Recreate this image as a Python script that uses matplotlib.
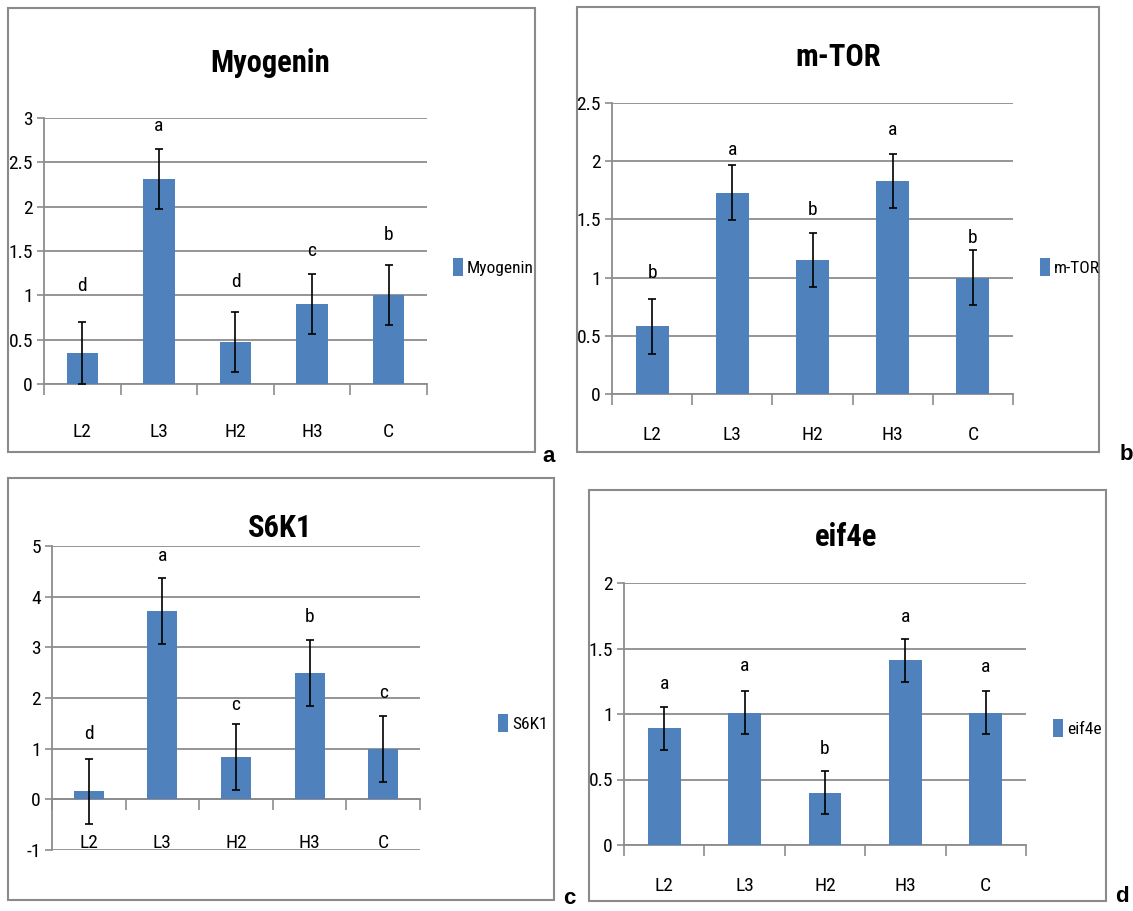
import matplotlib
matplotlib.use("Agg")
import matplotlib.pyplot as plt
from matplotlib.patches import Rectangle

W, H = 1133, 911
categories = ["L2", "L3", "H2", "H3", "C"]

myo_values = [0.35, 2.31, 0.47, 0.90, 1.00]
myo_errors = [0.35, 0.34, 0.34, 0.34, 0.34]
myo_letters = ["d", "a", "d", "c", "b"]
myo_letter_y = [1.11, 2.91, 1.15, 1.50, 1.68]
myo_ticks = [0, 0.5, 1, 1.5, 2, 2.5, 3]
myo_ticklabels = ["0", "0.5", "1", "1.5", "2", "2.5", "3"]

mtor_values = [0.58, 1.73, 1.15, 1.83, 1.00]
mtor_errors = [0.235, 0.235, 0.235, 0.235, 0.235]
mtor_letters = ["b", "a", "b", "a", "b"]
mtor_letter_y = [1.04, 2.10, 1.58, 2.27, 1.34]
mtor_ticks = [0, 0.5, 1, 1.5, 2, 2.5]
mtor_ticklabels = ["0", "0.5", "1", "1.5", "2", "2.5"]

s6k1_values = [0.16, 3.72, 0.83, 2.49, 0.99]
s6k1_errors = [0.64, 0.65, 0.65, 0.65, 0.65]
s6k1_letters = ["d", "a", "c", "b", "c"]
s6k1_letter_y = [1.28, 4.80, 1.87, 3.60, 2.10]
s6k1_ticks = [-1, 0, 1, 2, 3, 4, 5]
s6k1_ticklabels = ["-1", "0", "1", "2", "3", "4", "5"]

eif_values = [0.89, 1.01, 0.40, 1.41, 1.01]
eif_errors = [0.165, 0.165, 0.165, 0.165, 0.165]
eif_letters = ["a", "a", "b", "a", "a"]
eif_letter_y = [1.23, 1.37, 0.73, 1.74, 1.36]
eif_ticks = [0, 0.5, 1, 1.5, 2]
eif_ticklabels = ["0", "0.5", "1", "1.5", "2"]

NARROW = ["Roboto Condensed", "Roboto", "DejaVu Sans"]
BAR = "#4F81BD"
GRID = "#8c8c8c"

fig = plt.figure(figsize=(W / 100, H / 100), dpi=100)


def fx(px):
    return px / W


def fy(py):
    return 1 - py / H


def panel(axpx, boxpx, values, errors, letters, letter_y, ticks, ticklabels,
          title, title_xy, legend_xy, plabel, plabel_xy, label_pad, zero_axis=False):
    l, t, r, b = boxpx
    fig.add_artist(Rectangle((fx(l), fy(b)), fx(r - l), (b - t) / H,
                             transform=fig.transFigure, fill=False,
                             edgecolor="#8a8a8a", lw=1.5))
    al, at, ar, ab = axpx
    ax = fig.add_axes([fx(al), fy(ab), fx(ar - al), (ab - at) / H])
    for s in ["top", "right"]:
        ax.spines[s].set_visible(False)
    if zero_axis:
        ax.spines["bottom"].set_position(("data", 0))
    x = list(range(len(categories)))
    bars = ax.bar(x, values, width=0.41, color=BAR, label=title, zorder=3)
    ax.errorbar(x, values, yerr=errors, fmt="none", ecolor="black",
                elinewidth=1.2, capsize=3, capthick=1.2, zorder=4)
    for xi, lt, ly in zip(x, letters, letter_y):
        ax.text(xi, ly, lt, ha="center", va="center", fontsize=14,
                family=NARROW, zorder=5)
    ax.set_xlim(-0.5, len(categories) - 0.5)
    ax.set_ylim(ticks[0], ticks[-1])
    ax.set_yticks(ticks)
    ax.set_yticklabels(ticklabels, family=NARROW, fontsize=14)
    for tk in ticks:
        ax.axhline(tk, color=GRID, lw=1.3, zorder=1)
    # x ticks at category boundaries, labels at centers
    ax.set_xticks([i - 0.5 for i in range(len(categories) + 1)])
    ax.set_xticklabels([])
    ax.set_xticks(x, minor=True)
    ax.set_xticklabels(categories, minor=True, family=NARROW, fontsize=14)
    ax.tick_params(axis="x", which="major", length=8, color=GRID, width=1.2)
    ax.tick_params(axis="x", which="minor", length=0, pad=label_pad)
    ax.tick_params(axis="y", length=5, color=GRID, width=1.2, pad=3)
    ax.spines["left"].set_color(GRID)
    ax.spines["left"].set_linewidth(1.3)
    ax.spines["bottom"].set_color(GRID)
    ax.spines["bottom"].set_linewidth(1.3)
    ax.set_facecolor("none")
    fig.text(fx(title_xy[0]), fy(title_xy[1]), title, ha="center", va="center",
             fontsize=22, fontweight="bold", family=NARROW)
    fig.legend(handles=[bars], labels=[title], loc="center left",
               bbox_to_anchor=(fx(legend_xy[0]), fy(legend_xy[1])),
               frameon=False, prop={"family": NARROW, "size": 12.5},
               handlelength=0.6, handleheight=1.2, handletextpad=0.2,
               borderpad=0, borderaxespad=0)
    fig.text(fx(plabel_xy[0]), fy(plabel_xy[1]), plabel, ha="center", va="center",
             fontsize=16, fontweight="bold", family=["Liberation Sans", "DejaVu Sans"])
    return ax


panel((44, 118, 427, 384), (8, 8, 535, 452), myo_values, myo_errors, myo_letters,
      myo_letter_y, myo_ticks, myo_ticklabels, "Myogenin", (270, 63), (453, 267),
      "a", (549, 456), 28)
panel((612, 103, 1013, 394), (577, 7, 1099, 452), mtor_values, mtor_errors,
      mtor_letters, mtor_letter_y, mtor_ticks, mtor_ticklabels, "m-TOR", (838, 57),
      (1040, 267), "b", (1126, 455), 23)
panel((52, 546, 420, 850), (8, 478, 554, 900), s6k1_values, s6k1_errors,
      s6k1_letters, s6k1_letter_y, s6k1_ticks, s6k1_ticklabels, "S6K1", (280, 528),
      (498, 723), "c", (569, 898), 25, zero_axis=True)
panel((624, 583, 1026, 845), (589, 490, 1106, 901), eif_values, eif_errors,
      eif_letters, eif_letter_y, eif_ticks, eif_ticklabels, "eif4e", (846, 537),
      (1053, 728), "d", (1122, 897), 23)

fig.savefig("out.png", dpi=100, facecolor="white")
